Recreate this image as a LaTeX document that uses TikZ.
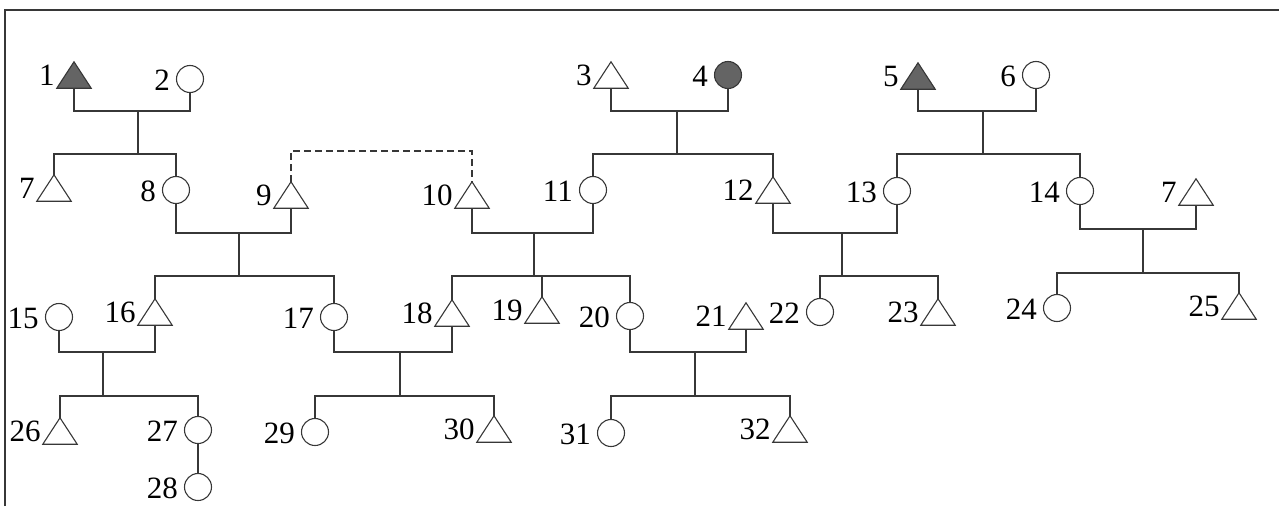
\documentclass[tikz,border=0pt]{standalone}
\usepackage{fontspec}
\setmainfont{Liberation Serif}
\definecolor{linegray}{RGB}{55,55,55}
\definecolor{fillgray}{RGB}{100,100,100}
\tikzset{
  x=1pt, y=-1pt,
  line/.style={draw=linegray, line width=1.3pt},
  kin/.style={draw=linegray, line width=1.2pt, dash pattern=on 7pt off 4pt},
  frame/.style={draw=linegray, line width=1.8pt},
  female/.style={circle, draw=linegray, line width=1.1pt, minimum size=27pt, inner sep=0pt},
  malebox/.style={rectangle, draw=none, minimum width=34pt, minimum height=26pt, inner sep=0pt},
  tag/.style={anchor=base east, inner sep=0pt, font=\fontsize{31}{31}\selectfont},
  affected/.style={fill=fillgray},
}
% \pmale[options]{name}{x}{y}{label}: triangle symbol with its number
\newcommand\pmale[5][]{%
  \node[malebox] (#2) at (#3,#4) {};
  \draw[line width=1.1pt, draw=linegray, line join=miter, #1] (#2.north) -- (#2.south east) -- (#2.south west) -- cycle;
  \path (#2.south west) ++(-2,-3) node[tag] (#2l) {#5};
}
% \pfemale[options]{name}{x}{y}{label}: circle symbol with its number
\newcommand\pfemale[5][]{%
  \node[female, #1] (#2) at (#3,#4) {};
  \path (#2.west |- #2.south) ++(-6,-3) node[tag] (#2l) {#5};
}
\begin{document}
\begin{tikzpicture}
\useasboundingbox (0,0) rectangle (1279,506);
\draw[frame] (5,506) -- (5,10) -- (1279,10);

% first generation
\pmale[affected]{p1}{74}{75}{1}
\pfemale{p2}{190}{79}{2}
\pmale{p3}{611}{75}{3}
\pfemale[affected]{p4}{728}{75}{4}
\pmale[affected]{p5}{918}{76}{5}
\pfemale{p6}{1036}{75}{6}

% second generation
\pmale{p7a}{54}{188}{7}
\pfemale{p8}{176}{190}{8}
\pmale{p9}{291}{195}{9}
\pmale{p10}{472}{195}{10}
\pfemale{p11}{593}{190}{11}
\pmale{p12}{773}{190}{12}
\pfemale{p13}{897}{191}{13}
\pfemale{p14}{1080}{191}{14}
\pmale{p7b}{1196}{192}{7}

% third generation
\pfemale{p15}{59}{317}{15}
\pmale{p16}{155}{312}{16}
\pfemale{p17}{334}{317}{17}
\pmale{p18}{452}{313}{18}
\pmale{p19}{542}{310}{19}
\pfemale{p20}{630}{316}{20}
\pmale{p21}{746}{316}{21}
\pfemale{p22}{820}{312}{22}
\pmale{p23}{938}{312}{23}
\pfemale{p24}{1057}{308}{24}
\pmale{p25}{1239}{306}{25}

% fourth generation
\pmale{p26}{60}{431}{26}
\pfemale{p27}{198}{430}{27}
\pfemale{p28}{198}{487}{28}
\pfemale{p29}{315}{432}{29}
\pmale{p30}{494}{429}{30}
\pfemale{p31}{611}{433}{31}
\pmale{p32}{790}{429}{32}

% couples (m) and sibships (s)
\coordinate (m12) at (138,111);   \coordinate (s12) at (138,154);
\coordinate (m34) at (677,111);   \coordinate (s34) at (677,154);
\coordinate (m56) at (983,111);   \coordinate (s56) at (983,154);
\coordinate (m89) at (239,233);   \coordinate (s89) at (239,276);
\coordinate (m1011) at (534,233); \coordinate (s1011) at (534,276);
\coordinate (m1213) at (842,233); \coordinate (s1213) at (842,276);
\coordinate (m147) at (1143,229); \coordinate (s147) at (1143,273);
\coordinate (m1516) at (103,352); \coordinate (s1516) at (103,396);
\coordinate (m1718) at (400,352); \coordinate (s1718) at (400,396);
\coordinate (m2021) at (695,352); \coordinate (s2021) at (695,396);

\draw[line] (p1.south) |- (m12) -| (p2.south);
\draw[line] (m12) -- (s12);
\draw[line] (p7a.north) |- (s12) -| (p8.north);

\draw[line] (p3.south) |- (m34) -| (p4.south);
\draw[line] (m34) -- (s34);
\draw[line] (p11.north) |- (s34) -| (p12.north);

\draw[line] (p5.south) |- (m56) -| (p6.south);
\draw[line] (m56) -- (s56);
\draw[line] (p13.north) |- (s56) -| (p14.north);

\draw[line] (p8.south) |- (m89) -| (p9.south);
\draw[line] (m89) -- (s89);
\draw[line] (p16.north) |- (s89) -| (p17.north);

\draw[line] (p10.south) |- (m1011) -| (p11.south);
\draw[line] (m1011) -- (s1011);
\draw[line] (p18.north) |- (s1011) -| (p20.north);
\draw[line] (p19.north) -- (p19.north |- s1011);

\draw[line] (p12.south) |- (m1213) -| (p13.south);
\draw[line] (m1213) -- (s1213);
\draw[line] (p22.north) |- (s1213) -| (p23.north);

\draw[line] (p14.south) |- (m147) -| (p7b.south);
\draw[line] (m147) -- (s147);
\draw[line] (p24.north) |- (s147) -| (p25.north);

\draw[line] (p15.south) |- (m1516) -| (p16.south);
\draw[line] (m1516) -- (s1516);
\draw[line] (p26.north) |- (s1516) -| (p27.north);
\draw[line] (p27.south) -- (p28.north);

\draw[line] (p17.south) |- (m1718) -| (p18.south);
\draw[line] (m1718) -- (s1718);
\draw[line] (p29.north) |- (s1718) -| (p30.north);

\draw[line] (p20.south) |- (m2021) -| (p21.south);
\draw[line] (m2021) -- (s2021);
\draw[line] (p31.north) |- (s2021) -| (p32.north);

% link between 9 and 10
\coordinate (k910) at (0,151);
\draw[kin] (p9.north) -- (p9.north |- k910) -- (p10.north |- k910) -- (p10.north);
\end{tikzpicture}
\end{document}
